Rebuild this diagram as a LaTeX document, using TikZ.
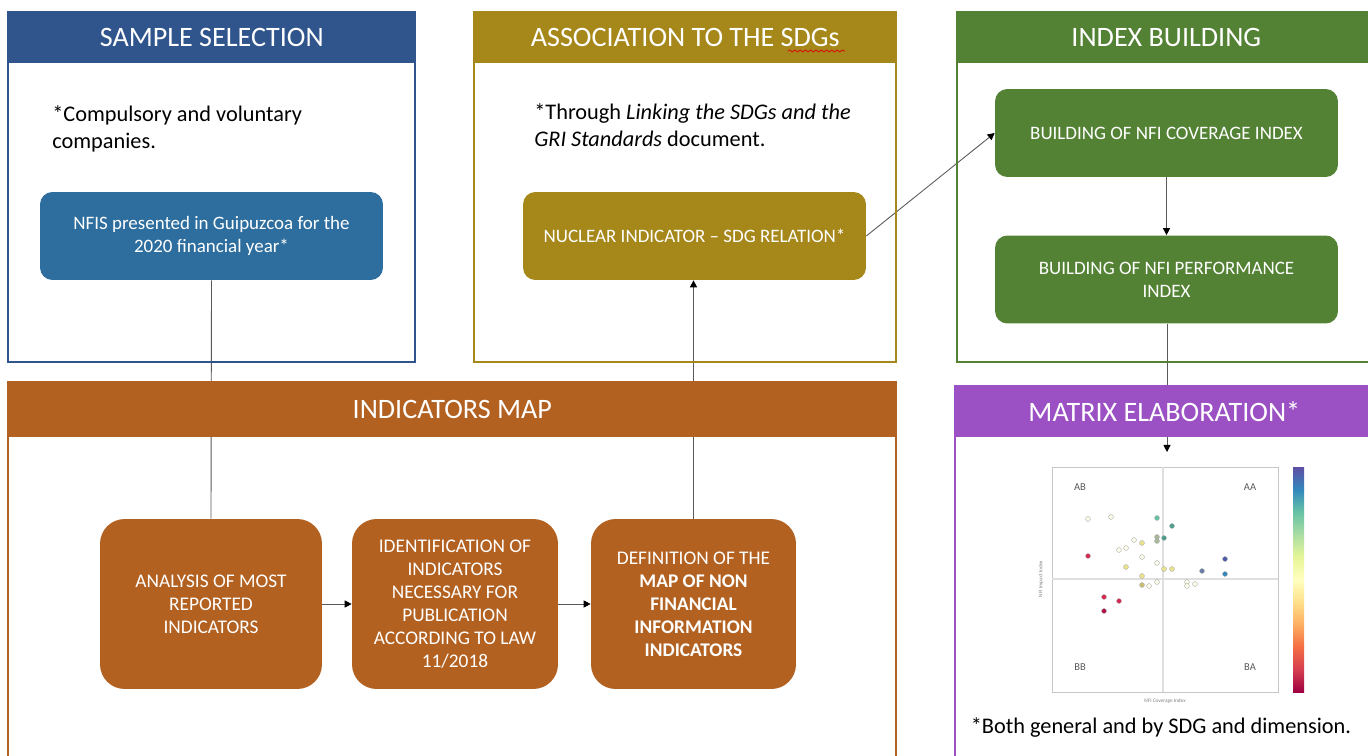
\documentclass[tikz,border=0pt]{standalone}
\usepackage{fontspec}
\setmainfont{Carlito}
\usepackage{tikz}
\usetikzlibrary{arrows.meta, positioning, decorations.pathmorphing}
\definecolor{sampleblue}{RGB}{47,85,140}
\definecolor{nfisblue}{RGB}{46,110,158}
\definecolor{sdggold}{RGB}{166,135,26}
\definecolor{indexgreen}{RGB}{84,130,53}
\definecolor{mapbrown}{RGB}{178,97,33}
\definecolor{matrixpurple}{RGB}{155,80,196}
% spectral colour bar
\definecolor{cb0}{RGB}{158,1,66}
\definecolor{cb1}{RGB}{213,62,79}
\definecolor{cb2}{RGB}{244,109,67}
\definecolor{cb3}{RGB}{253,174,97}
\definecolor{cb4}{RGB}{254,224,139}
\definecolor{cb5}{RGB}{255,255,191}
\definecolor{cb6}{RGB}{230,245,152}
\definecolor{cb7}{RGB}{171,221,164}
\definecolor{cb8}{RGB}{102,194,165}
\definecolor{cb9}{RGB}{50,136,189}
\definecolor{cb10}{RGB}{94,79,162}
% dots
\definecolor{ptpale}{RGB}{252,250,232}
\definecolor{ptyellow}{RGB}{236,228,140}
\definecolor{ptolive}{RGB}{200,192,112}
\definecolor{ptgrey}{RGB}{170,184,154}
\definecolor{ptteal}{RGB}{74,160,138}
\definecolor{ptslate}{RGB}{106,127,168}
\definecolor{ptblue}{RGB}{80,90,168}
\definecolor{ptred}{RGB}{214,40,80}
\definecolor{ptcrimson}{RGB}{176,16,63}

\begin{document}
\begin{tikzpicture}[
    x=0.02cm, y=-0.02cm,
    head/.style={anchor=north west, inner sep=0pt, text=white, font=\fontsize{16}{19}\selectfont},
    block/.style={rectangle, rounded corners=7pt, text=white, align=center, minimum width=6.86cm, minimum height=1.76cm, font=\fontsize{10.8}{13}\selectfont},
    mapblock/.style={block, rounded corners=14pt, fill=mapbrown, minimum height=3.4cm, font=\fontsize{11}{13.1}\selectfont},
    note/.style={anchor=base west, align=left, inner sep=0pt, font=\fontsize{12.7}{15.4}\selectfont},
    line/.style={gray!70!black, line width=0.5pt},
    arrow/.style={line, -{Triangle[length=4pt, width=4pt, black]}},
    panel/.style={line width=1.5pt},
    dot/.style={draw=gray!70, line width=0.2pt},
    quad/.style={text=gray!70!black, font=\fontsize{6}{6}\selectfont}
]
    \useasboundingbox (0,0) rectangle (1368,756);
    \clip (0,0) rectangle (1368,756);

    % Sample selection
    \node[block, fill=nfisblue] (nfis) at (211.5,236) {NFIS presented in Guipuzcoa for the\\2020 financial year*};

    % Association to the SDGs
    \node[block, fill=sdggold] (nuclear) at (694.5,236) {NUCLEAR INDICATOR -- SDG RELATION*};

    % Index building
    \node[block, fill=indexgreen] (coverage) at (1166.5,133) {BUILDING OF NFI COVERAGE INDEX};
    \node[block, fill=indexgreen] (performance) at (1166.5,279.5) {BUILDING OF NFI PERFORMANCE\\INDEX};

    % Indicators map
    \node[mapblock, minimum width=4.44cm] (analysis) at (211,604) {ANALYSIS OF MOST\\REPORTED\\INDICATORS};
    \node[mapblock, minimum width=4.12cm] (identification) at (455,604) {IDENTIFICATION OF\\INDICATORS\\NECESSARY FOR\\PUBLICATION\\ACCORDING TO LAW\\11/2018};
    \node[mapblock, minimum width=4.1cm] (definition) at (693.5,604) {DEFINITION OF THE\\\textbf{MAP OF NON}\\\textbf{FINANCIAL}\\\textbf{INFORMATION}\\\textbf{INDICATORS}};

    \coordinate (plottop) at (1167,452);

    % Connectors
    \draw[line] (nfis.south) -- (analysis.north);
    \draw[arrow] (analysis) -- (identification);
    \draw[arrow] (identification) -- (definition);
    \draw[arrow] (definition.north) -- (definition.north |- nuclear.south);
    \draw[arrow] (nuclear.east) -- (coverage.west);
    \draw[arrow] (coverage) -- (performance);
    \draw[arrow] (performance.south -| plottop) -- (plottop);

    % Panels
    \draw[panel, sampleblue] (8,12) rectangle (415,362);
    \draw[panel, sdggold] (474,12) rectangle (896,362);
    \draw[panel, indexgreen] (957,12) rectangle (1375,362);
    \draw[panel, mapbrown] (8,382) rectangle (896,780);
    \draw[panel, matrixpurple] (955,386) rectangle (1373,780);

    \node[head, fill=sampleblue, minimum width=8.14cm, minimum height=1.02cm] (samplehead) at (8,12) {SAMPLE SELECTION};
    \node[head, fill=sdggold, minimum width=8.44cm, minimum height=1.02cm] (sdghead) at (474,12) {ASSOCIATION TO THE SDGs};
    \draw[red!85!black, line width=0.4pt, decorate, decoration={snake, amplitude=0.6pt, segment length=3pt}] (788,51) -- (845,51);
    \node[head, fill=indexgreen, minimum width=8.36cm, minimum height=1.02cm] (indexhead) at (957,12) {INDEX BUILDING};
    \node[head, fill=mapbrown, minimum width=17.76cm, minimum height=1.1cm] (maphead) at (8,382) {INDICATORS MAP};
    \node[head, fill=matrixpurple, minimum width=8.36cm, minimum height=1.02cm] (matrixhead) at (955,386) {MATRIX ELABORATION*};

    % Notes
    \node[note] (samplenote) at (52,149) {*Compulsory and voluntary\\companies.};
    \node[note] (sdgnote) at (534,147) {*Through \textit{Linking the SDGs and the}\\\textit{GRI Standards} document.};
    \node[note, anchor=base] (matrixnote) at (1161,733) {*Both general and by SDG and dimension.};

    % Matrix plot
    \draw[gray!45, line width=0.3pt] (1052,467) rectangle (1278,692);
    \draw[gray!25, line width=0.6pt] (1163,467) -- (1163,692);
    \draw[gray!25, line width=0.6pt] (1052,579) -- (1278,579);
    \node[quad] (ab) at (1080,487) {AB};
    \node[quad] (aa) at (1250,487) {AA};
    \node[quad] (bb) at (1080,667) {BB};
    \node[quad] (ba) at (1250,667) {BA};
    \node[text=gray, font=\fontsize{3}{3}\selectfont] (xlabel) at (1165,701) {NFI Coverage Index};
    \node[text=gray, font=\fontsize{3}{3}\selectfont, rotate=90] (ylabel) at (1041,579) {NFI Impact Index};
    \foreach \px/\py/\c in {1088/519/ptpale, 1111/517/ptpale, 1157/518/cb8, 1172/526/ptteal,
        1134/540/ptpale, 1142/543/ptyellow, 1157/537/ptgrey, 1157/541/ptgrey, 1164/538/ptteal,
        1119/550/ptpale, 1126/548/ptpale, 1088/556/ptred, 1142/557/ptpale, 1157/563/ptpale,
        1126/567/ptyellow, 1164/569/ptyellow, 1172/569/ptyellow, 1202/571/ptslate,
        1225/559/ptblue, 1225/574/cb9, 1142/576/ptyellow, 1142/585/ptolive, 1149/586/ptpale,
        1157/582/ptpale, 1187/582/ptpale, 1187/586/ptpale, 1195/584/ptpale,
        1104/597/ptred, 1119/601/ptred, 1104/611/ptcrimson}
        \filldraw[dot, fill=\c] (\px,\py) circle (1.4pt);
    \foreach \i [evaluate=\i as \j using int(\i+1)] in {0,...,9}
        \shade[bottom color=cb\i, top color=cb\j] (1293,{692-\i*22.5}) rectangle (1304,{692-(\i+1)*22.5});
\end{tikzpicture}
\end{document}
